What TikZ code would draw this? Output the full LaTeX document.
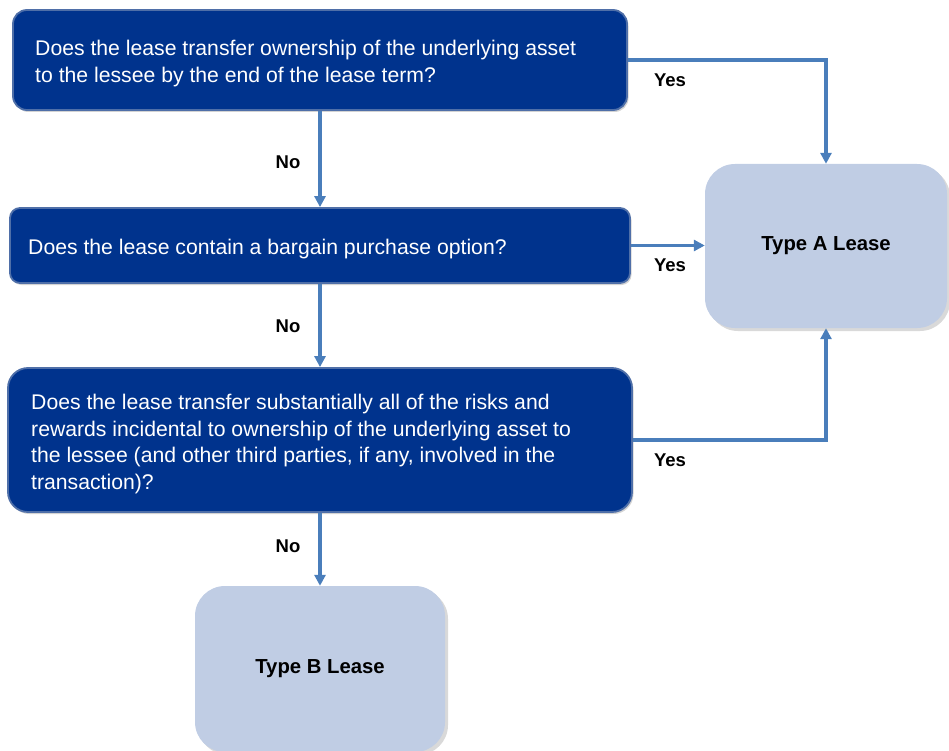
\documentclass[tikz,border=0pt]{standalone}
\usepackage{fontspec}
\setmainfont{Liberation Sans}
\usetikzlibrary{arrows.meta,shadows}
\definecolor{darkbox}{HTML}{00338D}
\definecolor{darkedge}{HTML}{4F6FA8}
\definecolor{lightbox}{HTML}{C0CDE4}
\definecolor{conncol}{HTML}{4A7EBB}
\tikzset{
  qbox/.style={draw=darkedge, line width=1.8pt, fill=darkbox,
    drop shadow={shadow xshift=1.5pt, shadow yshift=-2pt, opacity=0.35, fill=gray}},
  qtext/.style={text=white, align=left, anchor=west, inner sep=0pt,
    font=\fontsize{21.2}{26.5}\selectfont},
  rbox/.style={fill=lightbox, draw=none, rounded corners=30pt, align=center,
    font=\bfseries\fontsize{20.3}{24}\selectfont,
    drop shadow={shadow xshift=3pt, shadow yshift=-3pt, opacity=0.3, fill=gray}},
  conn/.style={draw=conncol, line width=3.2pt, -{Triangle[length=11pt,width=11pt]}},
  lab/.style={font=\bfseries\fontsize{18.5}{22}\selectfont, text=black}
}
\begin{document}
\begin{tikzpicture}[x=1pt,y=-1pt]
\useasboundingbox (0,0) rectangle (949,751);
\clip (0,0) rectangle (949,751);
\node[qbox, rounded corners=14pt, minimum width=614pt, minimum height=100pt] (b1) at (320,60) {};
\node[qtext] (t1) at (35,63.5)
  {Does the lease transfer ownership of the underlying asset\\to the lessee by the end of the lease term?};
\node[qbox, rounded corners=10pt, minimum width=620pt, minimum height=75pt] (b2) at (320,245.5) {};
\node[qtext] (t2) at (28,249.5) {Does the lease contain a bargain purchase option?};
\node[qbox, rounded corners=20pt, minimum width=624pt, minimum height=144pt] (b3) at (320,440) {};
\node[qtext] (t3) at (31,444)
  {Does the lease transfer substantially all of the risks and\\rewards incidental to ownership of the underlying asset to\\the lessee (and other third parties, if any, involved in the\\transaction)?};
\node[rbox, minimum width=242pt, minimum height=164pt] (tA) at (826,246) {Type A Lease};
\node[rbox, minimum width=250pt, minimum height=166pt] (tB) at (320,669) {Type B Lease};
\draw[conn] (b1.south) -- (b2.north);
\draw[conn] (b2.south) -- (b3.north);
\draw[conn] (b3.south) -- (tB.north);
\draw[conn] (b1.east) -| (tA.north);
\draw[conn] (b2.east) -- (b2.east -| tA.west);
\draw[conn] (b3.east) -| (tA.south);
\node[lab] (n1) at (288,162) {No};
\node[lab] (n2) at (288,326) {No};
\node[lab] (n3) at (288,546) {No};
\node[lab] (y1) at (670,80) {Yes};
\node[lab] (y2) at (670,265) {Yes};
\node[lab] (y3) at (670,460) {Yes};
\end{tikzpicture}
\end{document}
